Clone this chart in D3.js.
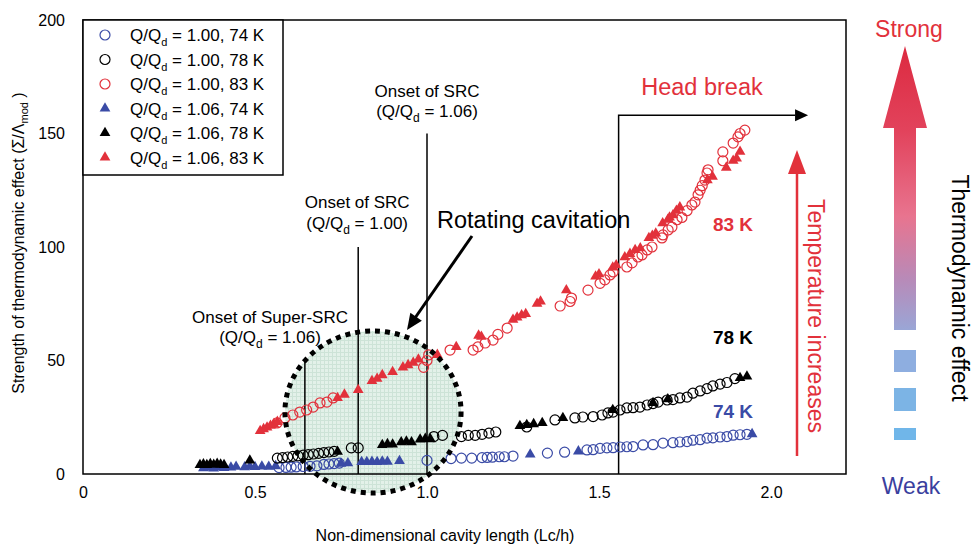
<!DOCTYPE html>
<html>
<head>
<meta charset="utf-8">
<script src="https://cdn.jsdelivr.net/npm/d3@7"></script>
<style>
  body { margin: 0; background: #fff; }
  svg { display: block; }
  text { font-family: "Liberation Sans", Arial, sans-serif; }
</style>
</head>
<body>
<svg id="chart" width="973" height="547"></svg>
<script>
// Tick values
const xTicks = [0, 0.5, 1.0, 1.5, 2.0];
const yTicks = [0, 50, 100, 150, 200];

// Q/Qd = 1.00 (open circles): [cavity length Lc/h, Σ/Λmod]
const circ74 = [[0.57,2.8],[0.59,2.9],[0.605,3.0],[0.62,3.1],[0.64,3.3],[0.66,3.4],[0.68,3.6],[0.70,4.2],[0.715,4.4],[0.73,4.6],[0.745,4.8],
  [1.0,6.0],[1.07,6.8],[1.10,7.0],[1.13,7.0],[1.16,7.2],[1.175,7.3],[1.19,7.4],[1.21,7.6],[1.225,7.6],[1.25,7.9],[1.35,9.2],[1.40,9.6],
  [1.465,10.6],[1.483,10.7],[1.503,11.3],[1.523,11.5],[1.541,11.6],[1.561,11.9],[1.581,12.0],[1.599,12.1],[1.628,12.8],[1.657,12.9],
  [1.686,13.6],[1.715,13.8],[1.735,14.1],[1.756,14.3],[1.773,14.9],[1.794,15.1],[1.814,15.8],[1.831,15.9],[1.852,16.3],[1.872,16.5],
  [1.89,17.1],[1.91,17.3],[1.93,17.5]];
const circ78 = [[0.565,7.0],[0.58,7.2],[0.595,7.5],[0.61,7.8],[0.625,8.0],[0.64,8.3],[0.655,8.5],[0.67,8.8],[0.685,9.1],[0.70,9.4],[0.715,9.7],[0.73,10.0],
  [0.78,11.5],[0.80,11.5],[1.02,16.5],[1.045,17.0],[1.10,16.5],[1.12,17.0],[1.14,17.0],[1.16,17.5],[1.18,18.0],[1.20,18.5],[1.29,20.7],[1.372,23.8],
  [1.43,24.7],[1.453,25.1],[1.483,25.3],[1.509,26.0],[1.526,26.9],[1.541,27.3],[1.561,28.2],[1.581,29.1],[1.599,29.2],[1.619,29.5],[1.64,30.4],
  [1.657,31.0],[1.672,31.7],[1.698,32.6],[1.715,32.8],[1.735,33.5],[1.756,33.9],[1.773,35.6],[1.794,36.6],[1.814,37.6],[1.831,38.8],[1.852,39.6],
  [1.872,40.3],[1.895,42.0]];
const circ83 = [[0.564,22.5],[0.587,24.7],[0.61,26.0],[0.63,27.3],[0.65,28.2],[0.669,29.5],[0.689,31.3],[0.709,31.7],[0.727,33.5],
  [0.99,47.0],[1.0,50.0],[1.005,52.5],[1.067,54.6],[1.134,54.6],[1.148,56.0],[1.169,57.7],[1.192,59.0],[1.206,61.5],[1.233,64.3],
  [1.387,74.0],[1.416,76.0],[1.42,77.5],[1.468,81.0],[1.503,84.0],[1.517,85.5],[1.532,87.7],[1.541,89.0],[1.581,91.2],[1.596,93.0],
  [1.613,95.6],[1.625,96.5],[1.64,98.7],[1.654,100.0],[1.683,104.0],[1.686,105.3],[1.701,107.5],[1.712,108.8],[1.727,112.0],[1.741,113.0],
  [1.756,116.0],[1.77,118.5],[1.779,119.8],[1.788,123.0],[1.794,125.0],[1.80,127.0],[1.808,129.5],[1.814,132.6],[1.817,134.0],
  [1.86,138.0],[1.86,141.9],[1.89,145.8],[1.904,148.5],[1.91,150.0],[1.924,151.5]];

// Q/Qd = 1.06 (filled triangles)
const tri74 = [[0.35,2.6],[0.365,2.8],[0.38,2.5],[0.395,3.0],[0.41,2.7],[0.43,2.9],[0.445,3.2],[0.47,3.0],[0.485,3.3],[0.50,3.1],[0.52,3.3],
  [0.54,3.2],[0.56,3.5],[0.75,4.6],[0.77,4.8],[0.81,5.3],[0.825,5.3],[0.84,5.4],[0.855,5.3],[0.87,5.5],[0.885,5.4],[0.92,5.8],
  [1.30,8.6],[1.44,10.0],[1.945,17.6]];
const tri78 = [[0.34,4.0],[0.35,4.3],[0.36,4.0],[0.37,4.4],[0.38,4.1],[0.39,4.5],[0.40,4.2],[0.41,4.0],[0.485,6.0],[0.74,9.8],
  [0.87,12.8],[0.885,13.2],[0.90,13.0],[0.925,14.0],[0.94,14.3],[0.955,14.0],[0.98,15.2],[0.995,15.5],[1.01,15.3],
  [1.27,21.2],[1.29,21.6],[1.31,22.0],[1.335,22.5],[1.395,24.7],[1.54,28.2],[1.657,31.3],[1.70,33.0],[1.91,42.3],[1.93,43.0]];
const tri83 = [[0.515,19.0],[0.525,19.8],[0.535,20.5],[0.545,21.3],[0.555,22.0],[0.565,23.0],[0.74,33.5],[0.76,35.0],[0.80,37.0],
  [0.84,41.0],[0.855,42.0],[0.87,43.6],[0.90,45.0],[0.93,47.0],[0.945,48.0],[0.96,49.0],[0.975,50.5],[1.03,52.5],[1.085,56.0],
  [1.15,61.0],[1.158,60.5],[1.25,68.0],[1.262,69.0],[1.275,70.0],[1.287,70.5],[1.32,75.0],[1.33,76.0],[1.405,81.0],[1.49,87.0],
  [1.50,88.0],[1.54,91.0],[1.55,92.0],[1.575,95.5],[1.59,97.0],[1.605,98.7],[1.62,99.5],[1.645,104.0],[1.655,105.0],[1.665,106.0],
  [1.685,110.5],[1.70,112.0],[1.705,113.0],[1.715,114.0],[1.725,116.0],[1.735,117.5],[1.815,129.5],[1.83,131.0],[1.87,135.0],
  [1.89,138.0],[1.90,139.0],[1.91,142.0]];

// Legend text pieces: flow ratio and temperature
const legendRatios = ["1.00", "1.00", "1.00", "1.06", "1.06", "1.06"];
const legendTemps = ["74 K", "78 K", "83 K", "74 K", "78 K", "83 K"];

// Onset markers (cavity length)
const onsetSuper = 0.645, onsetSRC100 = 0.80, onsetSRC106 = 1.0, headBreak = 1.557;

const BLUE = "#3a4ba6", BLACK = "#000", RED = "#e2313b";

const svg = d3.select("#chart");
const L = 83, R = 846, T = 20, B = 474;
const xMax = 2.218;
const x = d3.scaleLinear().domain([0, xMax]).range([L, R]);
const y = d3.scaleLinear().domain([0, 200]).range([B, T]);

const defs = svg.append("defs");
const pat = defs.append("pattern").attr("id", "grid").attr("width", 4).attr("height", 4)
  .attr("patternUnits", "userSpaceOnUse");
pat.append("rect").attr("width", 4).attr("height", 4).attr("fill", "#e3f1e9");
pat.append("path").attr("d", "M0,0.5H4M0.5,0V4").attr("stroke", "#cde3d7").attr("stroke-width", 1);

const grad = defs.append("linearGradient").attr("id", "thermo")
  .attr("gradientUnits", "userSpaceOnUse").attr("x1", 0).attr("x2", 0).attr("y1", 46).attr("y2", 330);
grad.append("stop").attr("offset", 0).attr("stop-color", "#dc2a40");
grad.append("stop").attr("offset", 0.3).attr("stop-color", "#e2435c");
grad.append("stop").attr("offset", 0.6).attr("stop-color", "#e8748f");
grad.append("stop").attr("offset", 0.82).attr("stop-color", "#b88ab8");
grad.append("stop").attr("offset", 1).attr("stop-color", "#9aa6d6");

// Rotating cavitation region
const ell = { cx: 0.843, cy: 27.3, rx: 0.256, ry: 35.7 };
const ecx = x(ell.cx), ecy = y(ell.cy), erx = x(ell.cx + ell.rx) - ecx, ery = ecy - y(ell.cy + ell.ry);
svg.append("ellipse").attr("cx", ecx).attr("cy", ecy).attr("rx", erx).attr("ry", ery).attr("fill", "url(#grid)");

// Onset lines
const vline = (xv, yTop) => svg.append("line").attr("x1", x(xv)).attr("x2", x(xv)).attr("y1", y(yTop)).attr("y2", y(0))
  .attr("stroke", "#000").attr("stroke-width", 1.5);
vline(onsetSuper, 51);
vline(onsetSRC100, 100);
vline(onsetSRC106, 150);

// Head break marker
svg.append("path").attr("d", `M${x(headBreak)},${y(0)}V${y(158)}H${x(2.07)}`)
  .attr("fill", "none").attr("stroke", "#000").attr("stroke-width", 1.5);
svg.append("path").attr("d", `M${x(2.07)},${y(158)-6}L${x(2.07)+13},${y(158)}L${x(2.07)},${y(158)+6}Z`).attr("fill", "#000");

// Data marks
const tri = d3.symbol().type(d3.symbolTriangle).size(50);
function drawCircles(data, color) {
  svg.append("g").selectAll("circle").data(data).join("circle")
    .attr("cx", d => x(d[0])).attr("cy", d => y(d[1])).attr("r", 5)
    .attr("fill", "none").attr("stroke", color).attr("stroke-width", 1.2);
}
function drawTris(data, color) {
  svg.append("g").selectAll("path").data(data).join("path")
    .attr("d", tri).attr("transform", d => `translate(${x(d[0])},${y(d[1])})`)
    .attr("fill", color);
}
drawTris(tri74, BLUE);
drawCircles(circ74, BLUE);
drawTris(tri78, BLACK);
drawCircles(circ78, BLACK);
drawTris(tri83, RED);
drawCircles(circ83, RED);

// Dotted outline of the rotating cavitation region
svg.append("ellipse").attr("cx", ecx).attr("cy", ecy).attr("rx", erx).attr("ry", ery)
  .attr("fill", "none").attr("stroke", "#000").attr("stroke-width", 5).attr("stroke-dasharray", "5,5");

// Plot frame
svg.append("rect").attr("x", L).attr("y", T).attr("width", R - L).attr("height", B - T)
  .attr("fill", "none").attr("stroke", "#000").attr("stroke-width", 1.5);

// Axes
const xAxis = d3.axisBottom(x).tickValues(xTicks).tickSize(0).tickPadding(13)
  .tickFormat(d => d === 0 ? "0" : d.toFixed(1));
const gx = svg.append("g").attr("transform", `translate(0,${B})`).call(xAxis);
gx.select(".domain").remove();
gx.selectAll("text").attr("font-size", 16).attr("font-family", "'Liberation Sans Narrow', 'Liberation Sans', Arial, sans-serif").attr("fill", "#000");

const yAxis = d3.axisLeft(y).tickValues(yTicks).tickSize(0).tickPadding(18);
const gy = svg.append("g").attr("transform", `translate(${L},0)`).call(yAxis);
gy.select(".domain").remove();
gy.selectAll("text").attr("font-size", 16).attr("font-family", "'Liberation Sans', Arial, sans-serif").attr("fill", "#000");

// Axis titles
svg.append("text").attr("x", 445).attr("y", 541).attr("text-anchor", "middle").attr("font-size", 16)
  .attr("font-family", "'Liberation Sans Narrow', 'Liberation Sans', Arial, sans-serif")
  .text("Non-dimensional cavity length (Lc/h)");
const yt = svg.append("text").attr("transform", "translate(24,243) rotate(-90)").attr("text-anchor", "middle").attr("font-size", 16);
yt.append("tspan").text("Strength of thermodynamic effect (Σ/Λ");
yt.append("tspan").attr("font-size", 11).attr("dy", 4).text("mod");
yt.append("tspan").attr("dy", -4).text(" )");

// Legend
svg.append("rect").attr("x", L).attr("y", T).attr("width", 200).attr("height", 155)
  .attr("fill", "#fff").attr("stroke", "#000").attr("stroke-width", 1.5);
const legColors = [BLUE, BLACK, RED, BLUE, BLACK, RED];
legendRatios.forEach((r, i) => {
  const ly = 35 + i * 24.5;
  if (i < 3) {
    svg.append("circle").attr("cx", 105).attr("cy", ly).attr("r", 5).attr("fill", "none")
      .attr("stroke", legColors[i]).attr("stroke-width", 1.2);
  } else {
    svg.append("path").attr("d", tri).attr("transform", `translate(105,${ly})`).attr("fill", legColors[i]);
  }
  const t = svg.append("text").attr("x", 130).attr("y", ly + 6).attr("font-size", 17);
  t.append("tspan").text("Q/Q");
  t.append("tspan").attr("font-size", 11).attr("dy", 5).text("d");
  t.append("tspan").attr("dy", -5).text(` = ${r}, ${legendTemps[i]}`);
});

// Annotation text helpers
function qLabel(cx, by, val) {
  const t = svg.append("text").attr("x", cx).attr("y", by).attr("text-anchor", "middle").attr("font-size", 17);
  t.append("tspan").text("(Q/Q");
  t.append("tspan").attr("font-size", 12).attr("dy", 5).text("d");
  t.append("tspan").attr("dy", -5).text(` = ${val})`);
}
function label(cx, by, s, size, color, weight) {
  return svg.append("text").attr("x", cx).attr("y", by).attr("text-anchor", "middle")
    .attr("font-size", size).attr("fill", color || "#000").attr("font-weight", weight || "normal").text(s);
}
label(270, 323, "Onset of Super-SRC", 17);
qLabel(270, 343, "1.06");
label(x(onsetSRC100) - 1, 208, "Onset of SRC", 17);
qLabel(x(onsetSRC100) - 1, 229, "1.00");
label(x(onsetSRC106), 97, "Onset of SRC", 17);
qLabel(x(onsetSRC106), 117, "1.06");

svg.append("text").attr("x", 437).attr("y", 228).attr("font-size", 23.5).text("Rotating cavitation");
// Pointer to the region
svg.append("line").attr("x1", 472).attr("y1", 236).attr("x2", 415).attr("y2", 318)
  .attr("stroke", "#000").attr("stroke-width", 3);
{
  const tx = 407, ty = 330, ang = Math.atan2(330 - 236, 407 - 472);
  const len = 16, hw = 7;
  const bx = tx - len * Math.cos(ang), by = ty - len * Math.sin(ang);
  const px = -Math.sin(ang) * hw, py = Math.cos(ang) * hw;
  svg.append("path").attr("d", `M${tx},${ty}L${bx + px},${by + py}L${bx - px},${by - py}Z`).attr("fill", "#000");
}

label(702, 95, "Head break", 23.5, RED);
label(733, 231, "83 K", 19, RED, "bold");
label(733, 344, "78 K", 19, BLACK, "bold");
label(733, 418, "74 K", 19, BLUE, "bold");

// Temperature arrow
svg.append("line").attr("x1", 797).attr("x2", 797).attr("y1", 456).attr("y2", 172).attr("stroke", RED).attr("stroke-width", 2.5);
svg.append("path").attr("d", "M788,174L797,150L806,174Z").attr("fill", RED);
svg.append("text").attr("transform", "translate(808,316) rotate(90)").attr("text-anchor", "middle")
  .attr("font-size", 23).attr("fill", RED).text("Temperature increases");

// Thermodynamic effect scale
svg.append("path").attr("d", "M905,46L927,128L916,128L916,330L894,330L894,128L883,128Z").attr("fill", "url(#thermo)");
svg.append("rect").attr("x", 894).attr("y", 350).attr("width", 22).attr("height", 22).attr("fill", "#8eaee0");
svg.append("rect").attr("x", 894).attr("y", 388).attr("width", 22).attr("height", 23).attr("fill", "#7cb4e5");
svg.append("rect").attr("x", 894).attr("y", 428).attr("width", 22).attr("height", 12).attr("fill", "#70b6e9");
label(909, 37, "Strong", 23, RED);
label(911, 494, "Weak", 23, "#3a3f9e");
svg.append("text").attr("transform", "translate(952,288) rotate(90)").attr("text-anchor", "middle")
  .attr("font-size", 23).attr("fill", "#000").text("Thermodynamic effect");
</script>
</body>
</html>
